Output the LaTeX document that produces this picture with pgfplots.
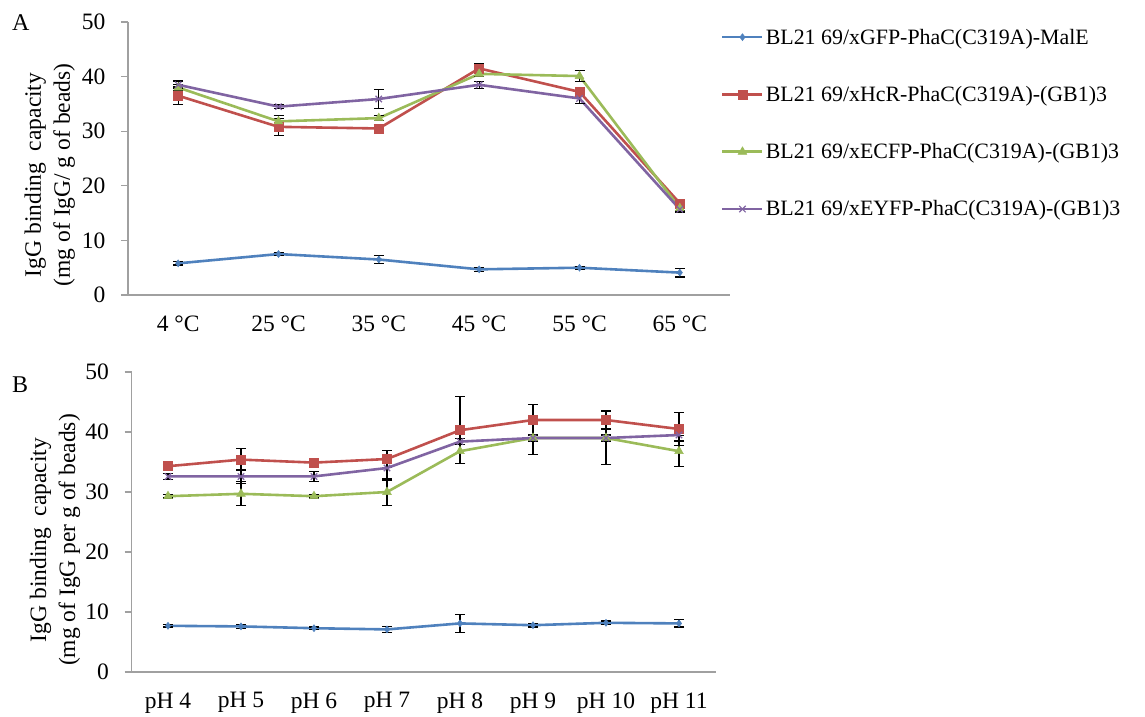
\documentclass[border=0pt]{standalone}
\usepackage{fontspec}
\setmainfont{Liberation Serif}
\usepackage{pgfplots}
\usepackage{pgfplotstable}
\pgfplotsset{compat=1.18}
\definecolor{cb}{HTML}{4F81BD}
\definecolor{cr}{HTML}{C0504D}
\definecolor{cg}{HTML}{9BBB59}
\definecolor{cp}{HTML}{8064A2}
\definecolor{axgray}{HTML}{A0A0A0}

\pgfplotstableread{
x b be r re g ge p pe
0 5.8 0.3 36.5 1.6 38.0 0.5 38.5 0.7
1 7.5 0.3 30.8 1.6 31.8 1.0 34.5 0.4
2 6.5 0.7 30.5 0.8 32.4 0.5 35.9 1.8
3 4.7 0.4 41.5 0.9 40.5 0.5 38.5 0.6
4 5.0 0.3 37.2 0.5 40.1 1.0 36.0 0.9
5 4.1 0.8 16.8 0.5 15.9 0.4 15.7 0.5
}\tabA

\pgfplotstableread{
x b be r re g ge p pe
0 7.7 0.2 34.3 0.3 29.3 0.3 32.6 0.5
1 7.6 0.3 35.4 1.8 29.7 2.0 32.6 1.2
2 7.3 0.2 34.9 0.3 29.3 0.3 32.6 0.8
3 7.1 0.5 35.5 1.4 30.0 2.3 34.0 2.0
4 8.1 1.5 40.3 5.6 36.8 2.1 38.4 0.5
5 7.8 0.3 42.0 2.6 39.0 2.8 39.0 0.5
6 8.2 0.3 42.0 1.5 39.0 4.4 39.0 0.5
7 8.1 0.6 40.5 2.8 36.8 2.6 39.5 1.0
}\tabB

\pgfplotsset{
  myaxis/.style={
    scale only axis,
    axis x line=bottom, axis y line=left,
    axis line style={axgray, line width=1.5pt, -},
    ymin=0, ymax=50, ytick={0,10,...,50},
    xmin=-0.5,
    tick align=outside,
    major tick length=7pt,
    ytick style={axgray, line width=1.2pt},
    xtick style={draw=none},
    ticklabel style={font=\fontsize{23.5}{26}\selectfont, text=black},
    yticklabel style={xshift=-12pt},
    xticklabel style={yshift=-10pt},
    /pgf/number format/assume math mode=true,
    ylabel style={font=\fontsize{23.5}{29}\selectfont, align=center, anchor=center},
    every axis plot/.append style={line width=2.6pt},
    error bars/y dir=both, error bars/y explicit,
    error bars/error bar style={black, line width=1.1pt},
    error bars/error mark options={rotate=90, black, mark size=5pt, line width=1.1pt},
  },
  sb/.style={color=cb, mark=diamond*, mark size=3.5pt, mark options={fill=cb, line width=0.5pt}},
  sr/.style={color=cr, mark=square*, mark size=4.5pt, mark options={fill=cr, line width=0.5pt}},
  sg/.style={color=cg, mark=triangle*, mark size=5pt, mark options={fill=cg, line width=0.5pt}},
  sp/.style={color=cp, mark=x, mark size=4.5pt, mark options={line width=1.2pt}},
}

\begin{document}
\begin{tikzpicture}
\path (0pt,0pt) rectangle (1145pt,-715pt);
\node[font=\fontsize{24}{28}\selectfont, anchor=base west, inner sep=0] at (12pt,-31pt) {A};
\node[font=\fontsize{24}{28}\selectfont, anchor=base west, inner sep=0] at (12pt,-392pt) {B};

\begin{axis}[myaxis,
  at={(128pt,-295pt)}, anchor=south west,
  width=602pt, height=273pt,
  xmax=5.5, xtick={0,...,5},
  xticklabels={4 °C, 25 °C, 35 °C, 45 °C, 55 °C, 65 °C},
  ylabel={IgG binding\ \ capacity\\(mg of IgG/ g of beads)},
  ylabel style={at={(axis description cs:-0.13,0.44)}},
  legend style={at={(axis description cs:0.985,0.983)}, anchor=north west,
    draw=none, fill=none, font=\fontsize{21.9}{25}\selectfont,
    row sep=36.6pt, inner xsep=0pt, inner ysep=0pt,
    /tikz/every even column/.append style={column sep=4pt}},
  legend cell align=left,
  legend image code/.code={\draw[mark repeat=2,mark phase=2, line width=2.6pt] plot coordinates {(0pt,0pt)(20pt,0pt)(40pt,0pt)};},
]
\addplot[sb] table[x=x, y=b, y error=be] {\tabA};
\addlegendentry{BL21 69/xGFP-PhaC(C319A)-MalE}
\addplot[sr] table[x=x, y=r, y error=re] {\tabA};
\addlegendentry{BL21 69/xHcR-PhaC(C319A)-(GB1)3}
\addplot[sg] table[x=x, y=g, y error=ge] {\tabA};
\addlegendentry{BL21 69/xECFP-PhaC(C319A)-(GB1)3}
\addplot[sp] table[x=x, y=p, y error=pe] {\tabA};
\addlegendentry{BL21 69/xEYFP-PhaC(C319A)-(GB1)3}
\end{axis}

\begin{axis}[myaxis,
  at={(131.5pt,-672pt)}, anchor=south west,
  width=584pt, height=300pt,
  xmax=7.5, xtick={0,...,7},
  xticklabels={pH 4, pH 5, pH 6, pH 7, pH 8, pH 9, pH 10, pH 11},
  ylabel={IgG binding\ \ capacity\\(mg of IgG per g of beads)},
  ylabel style={at={(axis description cs:-0.131,0.44)}},
]
\addplot[sb] table[x=x, y=b, y error=be] {\tabB};
\addplot[sr] table[x=x, y=r, y error=re] {\tabB};
\addplot[sg] table[x=x, y=g, y error=ge] {\tabB};
\addplot[sp] table[x=x, y=p, y error=pe] {\tabB};
\end{axis}
\end{tikzpicture}
\end{document}
